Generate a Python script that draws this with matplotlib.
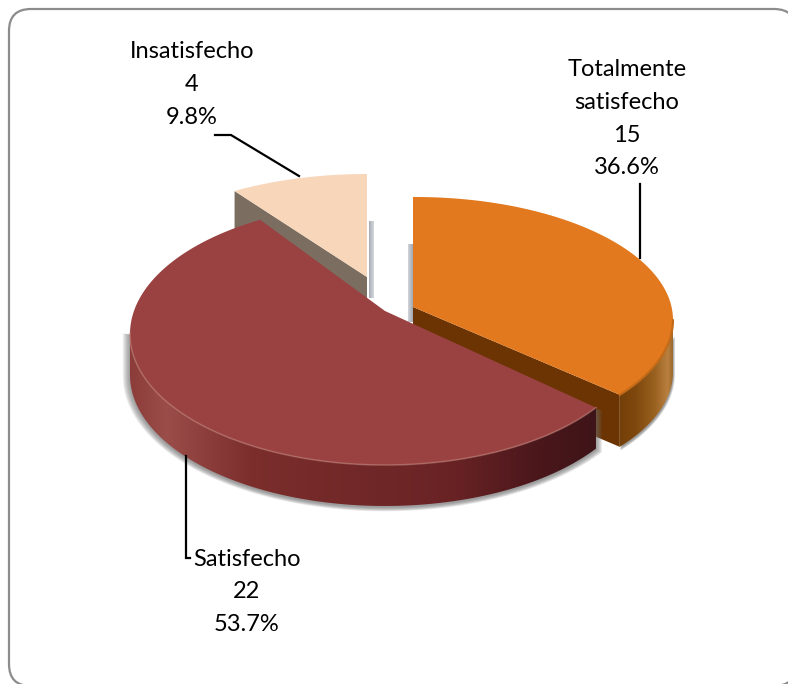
import numpy as np
import matplotlib
matplotlib.use("Agg")
import matplotlib.pyplot as plt
from matplotlib.patches import Polygon, FancyBboxPatch
from matplotlib.colors import LinearSegmentedColormap

categories = ["Totalmente\nsatisfecho", "Satisfecho", "Insatisfecho"]
counts = [15, 22, 4]
percents = ["36.6%", "53.7%", "9.8%"]
top_colors = ["#E2791E", "#9A4141", "#F8D6BA"]

W, H = 788, 684
plt.rcParams['font.family'] = ['Lato', 'DejaVu Sans']
fig = plt.figure(figsize=(W / 100, H / 100), dpi=100)
ax = fig.add_axes([0, 0, 1, 1])
ax.set_xlim(0, W)
ax.set_ylim(H, 0)
ax.axis("off")

R = 22
ax.add_patch(FancyBboxPatch((9 + R, 9 + R), 796 - 9 - 2 * R, 686 - 9 - 2 * R,
                            boxstyle=f"round,pad={R},rounding_size={R}",
                            fc="white", ec="#8C8C8C", lw=1.6, zorder=0))

# layout of each exploded slice: apex, ellipse centre, semi-axes, wall depth
layout = [
    dict(apex=(413, 307), c=(415, 320), a=258, b=123, d=52),
    dict(apex=(385, 311), c=(385, 334), a=255, b=131, d=41),
    dict(apex=(367, 277), c=(367, 290), a=254, b=116, d=46),
]

total = sum(counts)
edges = np.cumsum([0] + counts) / total * 2 * np.pi


def rim(i, t0, t1, n=160):
    L = layout[i]
    ax_, ay = L["apex"]
    cx, cy = L["c"]
    a, b = L["a"], L["b"]
    pts = []
    for t in np.linspace(t0, t1, n):
        dx, dy = np.sin(t) * a / b, -np.cos(t)
        ox, oy = (ax_ - cx) / a, (ay - cy) / b
        ux, uy = dx / a, dy / b
        A = ux * ux + uy * uy
        B = 2 * (ox * ux + oy * uy)
        C = ox * ox + oy * oy - 1
        s = (-B + np.sqrt(B * B - 4 * A * C)) / (2 * A)
        pts.append((ax_ + s * dx, ay + s * dy))
    return np.array(pts)


def gradient(poly, xs, cols, z):
    cmap = LinearSegmentedColormap.from_list(
        "g", [((x - xs[0]) / (xs[-1] - xs[0]), c) for x, c in zip(xs, cols)])
    g = np.linspace(0, 1, 512)[None, :]
    im = ax.imshow(g, cmap=cmap, aspect="auto", zorder=z, interpolation="bilinear",
                   extent=(xs[0], xs[-1], H, 0))
    p = Polygon(poly, closed=True, transform=ax.transData, fc="none", ec="none")
    ax.add_patch(p)
    im.set_clip_path(p)
    ax.set_xlim(0, W)
    ax.set_ylim(H, 0)


def soft_shadow(outline, centre, z):
    for k in range(8):
        f = 1 + k * 0.004
        pts = (outline - centre) * f + centre + np.array([0, 1.5])
        ax.add_patch(Polygon(pts, closed=True, fc="#6A6A6A", ec="none",
                             alpha=0.12, zorder=z))


# ---------- Insatisfecho (back slice)
i = 2
arc = rim(i, edges[2], edges[3])
apex = np.array(layout[i]["apex"], float)
d = np.array([0, layout[i]["d"]])
gradient([(369, 221), (374, 221), (374, 298), (369, 298)], [369, 374], ["#A2A8B2", "#D5D8DC"], 2)
ax.add_patch(Polygon([apex, arc[0], arc[0] + d, apex + d], fc="#7B6E60", ec="none", zorder=3))
ax.add_patch(Polygon(np.vstack([apex, arc]), fc=top_colors[i], ec="none", zorder=4))

# ---------- Totalmente satisfecho
i = 0
arc = rim(i, edges[0], edges[1])
apex = np.array(layout[i]["apex"], float)
d = np.array([0, layout[i]["d"]])
gradient([(408, 244), (413, 244), (413, 322), (408, 322)], [408, 413], ["#D5D8DC", "#A2A8B2"], 2)
front = arc[arc[:, 0].argmax():]
outer = np.vstack([front, (front + d)[::-1]])
soft_shadow(np.vstack([front + d, [front[0] + d * 0.3]]), np.array([600, 360.0]), 5)
gradient(outer, [610, 635, 655, 668, 676],
         ["#6E3A06", "#7E470D", "#9A6220", "#B98040", "#8A5A20"], 6)
ax.add_patch(Polygon([apex, arc[-1], arc[-1] + d, apex + d], fc="#6B3402", ec="none", zorder=7))
ax.add_patch(Polygon(np.vstack([apex, arc]), fc=top_colors[i], ec="none", zorder=8))
ax.plot(*front.T, color="#C26A18", lw=1.5, zorder=9)

# ---------- Satisfecho
i = 1
arc = rim(i, edges[1], edges[2])
apex = np.array(layout[i]["apex"], float)
d = np.array([0, layout[i]["d"]])
front = arc[:arc[:, 0].argmin() + 1]
outer = np.vstack([front, (front + d)[::-1]])
soft_shadow(np.vstack([front + d, [front[-1]], [front[0]]]), np.array([385, 370.0]), 9)
gradient(outer, [125, 165, 250, 450, 540, 600],
         ["#8A3A37", "#9A4D49", "#7B2E2C", "#6A2325", "#4A171B", "#3E1418"], 10)
ax.add_patch(Polygon(np.vstack([apex, arc]), fc=top_colors[i], ec="none", zorder=11))
ax.plot(*front.T, color="#C08078", lw=1.2, alpha=0.55, zorder=12)

# ---------- labels and leader lines
fs = 17
ls = 32.6


def label(x, y0, lines):
    for k, t in enumerate(lines):
        ax.text(x, y0 + k * ls, t, ha="center", va="center", fontsize=fs,
                color="black", zorder=20)


label(627, 70, categories[0].split("\n") + [str(counts[0]), percents[0]])
label(247, 559, categories[1].split("\n") + [str(counts[1]), percents[1]])
label(192, 52, categories[2].split("\n") + [str(counts[2]), percents[2]])

for xs, ys in [((640, 640), (184, 258)),
               ((186, 186, 190), (456, 558, 558)),
               ((215, 231, 299), (135, 135, 176))]:
    ax.plot(xs, ys, color="black", lw=1.6, zorder=19, solid_joinstyle="miter")

fig.savefig("out.png", dpi=100, facecolor="white")
